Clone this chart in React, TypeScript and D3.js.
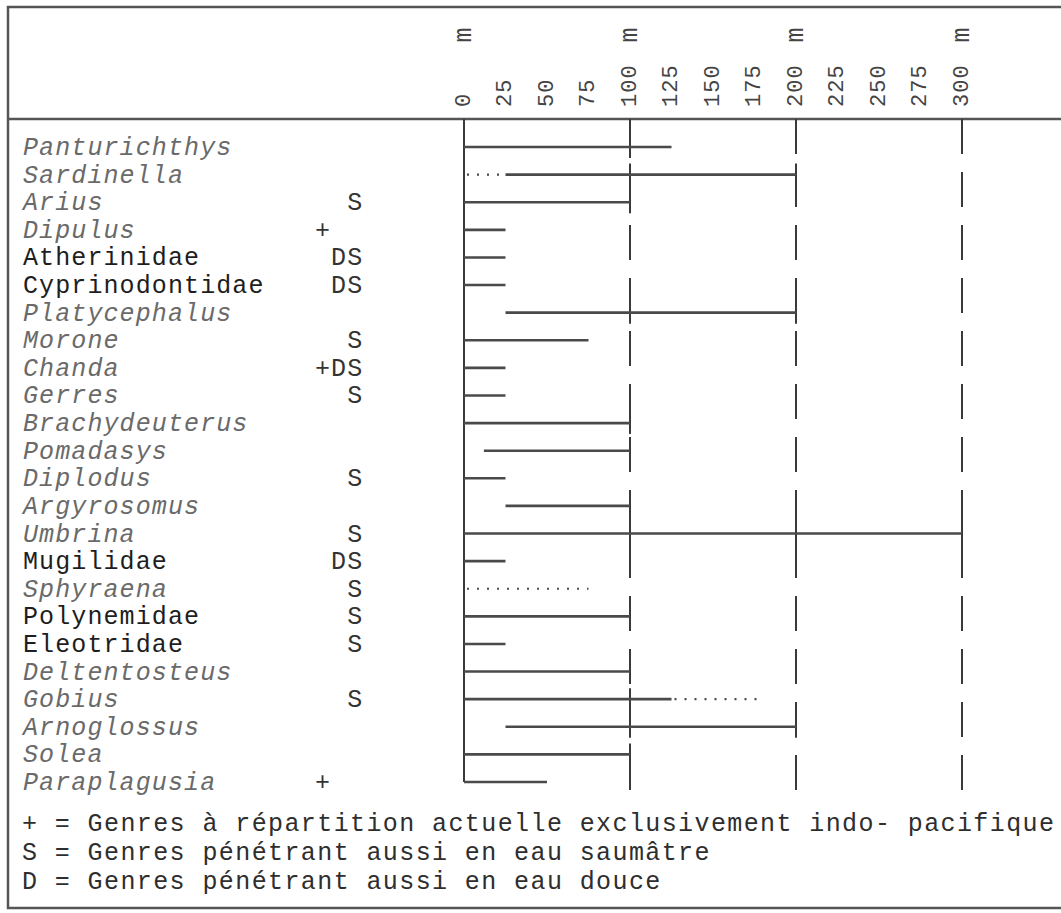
import React from 'react';
import * as d3 from 'd3';

// Genera / families, listed top to bottom
const taxa = [
  'Panturichthys', 'Sardinella', 'Arius', 'Dipulus', 'Atherinidae', 'Cyprinodontidae',
  'Platycephalus', 'Morone', 'Chanda', 'Gerres', 'Brachydeuterus', 'Pomadasys',
  'Diplodus', 'Argyrosomus', 'Umbrina', 'Mugilidae', 'Sphyraena', 'Polynemidae',
  'Eleotridae', 'Deltentosteus', 'Gobius', 'Arnoglossus', 'Solea', 'Paraplagusia',
];

// code columns: "+", "D", "S"
const codes = [
  '   ', '   ', '  S', '+  ', ' DS', ' DS',
  '   ', '  S', '+DS', '  S', '   ', '   ',
  '  S', '   ', '  S', ' DS', '  S', '  S',
  '  S', '   ', '  S', '   ', '   ', '+  ',
];

// depth range in metres (solid part); null = none
const solidFrom = [0, 25, 0, 0, 0, 0, 25, 0, 0, 0, 0, 12, 0, 25, 0, 0, null, 0, 0, 0, 0, 25, 0, 0];
const solidTo = [125, 200, 100, 25, 25, 25, 200, 75, 25, 25, 100, 100, 25, 100, 300, 25, null, 100, 25, 100, 125, 200, 100, 50];

// dotted (uncertain) part of the range
const dottedFrom = [null, 0, null, null, null, null, null, null, null, null, null, null, null, null, null, null, 0, null, null, null, 125, null, null, null];
const dottedTo = [null, 25, null, null, null, null, null, null, null, null, null, null, null, null, null, null, 75, null, null, null, 180, null, null, null];

const depthTicks = [0, 25, 50, 75, 100, 125, 150, 175, 200, 225, 250, 275, 300];
const depthMarks = [100, 200, 300];

const legendLines = [
  '+ = Genres à répartition actuelle exclusivement indo- pacifique',
  'S = Genres pénétrant aussi en eau saumâtre',
  'D = Genres pénétrant aussi en eau douce',
];

const W = 1061;
const H = 913;
const FONT = '"Courier New", "Liberation Mono", monospace';
const INK = '#3a3a3a';

export default function App() {
  const x = d3.scaleLinear().domain([0, 300]).range([464, 962]);
  const y = d3.scalePoint<string>().domain(taxa).range([147, 782]);
  const headerY = 119;
  const lastY = y(taxa[taxa.length - 1]) ?? 782;

  // short vertical ticks where a range ends on (or crosses) a 100 m mark
  const endTicks: { x: number; y: number }[] = [];
  taxa.forEach((t, i) => {
    const from = solidFrom[i];
    const to = solidTo[i];
    if (from === null || to === null) return;
    depthMarks.forEach(m => {
      if (m > from && m <= to) endTicks.push({ x: x(m), y: y(t) ?? 0 });
    });
  });

  return (
    <>
      <style>{'body{margin:0;background:#fff}'}</style>
      <svg width={W} height={H} style={{ display: 'block' }} fontFamily={FONT}>
        <rect x={0} y={0} width={W} height={H} fill="#fff" />

        {/* frame */}
        <rect x={8} y={7} width={W + 10} height={901} fill="none" stroke="#555" strokeWidth={2.5} />
        <line x1={8} x2={W} y1={headerY} y2={headerY} stroke="#555" strokeWidth={2.5} />

        {/* header scale */}
        {depthTicks.map(d => (
          <text
            key={'t' + d}
            transform={`translate(${x(d)},${107}) rotate(-90)`}
            dominantBaseline="central"
            fontSize={22}
            letterSpacing={1}
            fill="#444"
          >
            {d}
          </text>
        ))}
        {[0, ...depthMarks].map(d => (
          <text
            key={'m' + d}
            transform={`translate(${x(d)},${35}) rotate(-90)`}
            dominantBaseline="central"
            textAnchor="middle"
            fontSize={25}
            fill="#444"
          >
            m
          </text>
        ))}

        {/* 0 m axis */}
        <line x1={x(0)} x2={x(0)} y1={headerY} y2={lastY} stroke={INK} strokeWidth={2} />

        {/* dashed 100 / 200 / 300 m marks */}
        {depthMarks.map(d => (
          <line
            key={'v' + d}
            x1={x(d)}
            x2={x(d)}
            y1={headerY}
            y2={lastY + 8}
            stroke={INK}
            strokeWidth={2}
            strokeDasharray="35 18"
          />
        ))}

        {endTicks.map((p, i) => (
          <line key={'e' + i} x1={p.x} x2={p.x} y1={p.y - 11} y2={p.y + 11} stroke={INK} strokeWidth={2} />
        ))}

        {/* ranges */}
        {taxa.map((t, i) => {
          const yy = y(t) ?? 0;
          return (
            <g key={t}>
              {solidFrom[i] !== null && (
                <line
                  x1={x(solidFrom[i] as number)}
                  x2={x(solidTo[i] as number)}
                  y1={yy}
                  y2={yy}
                  stroke="#4a4a4a"
                  strokeWidth={2.6}
                />
              )}
              {dottedFrom[i] !== null && (
                <line
                  x1={x(dottedFrom[i] as number) + 3}
                  x2={x(dottedTo[i] as number)}
                  y1={yy}
                  y2={yy}
                  stroke="#4a4a4a"
                  strokeWidth={2.2}
                  strokeDasharray="2 8"
                />
              )}
            </g>
          );
        })}

        {/* labels */}
        {taxa.map((t, i) => {
          const family = t.endsWith('idae');
          const yy = y(t) ?? 0;
          return (
            <g key={'l' + t}>
              <text
                x={23}
                y={yy}
                dy="0.32em"
                fontSize={25}
                letterSpacing={1.1}
                fontStyle={family ? 'normal' : 'italic'}
                fill={family ? '#1e1e1e' : '#6a6a6a'}
              >
                {t}
              </text>
              <text
                x={315}
                y={yy}
                dy="0.32em"
                fontSize={25}
                letterSpacing={1.1}
                fill="#333"
                style={{ whiteSpace: 'pre' }}
              >
                {codes[i]}
              </text>
            </g>
          );
        })}

        {/* legend */}
        {legendLines.map((l, i) => (
          <text
            key={'g' + i}
            x={22}
            y={823 + i * 29}
            dy="0.32em"
            fontSize={25}
            letterSpacing={1.4}
            fill="#2e2e2e"
            style={{ whiteSpace: 'pre' }}
          >
            {l}
          </text>
        ))}
      </svg>
    </>
  );
}
